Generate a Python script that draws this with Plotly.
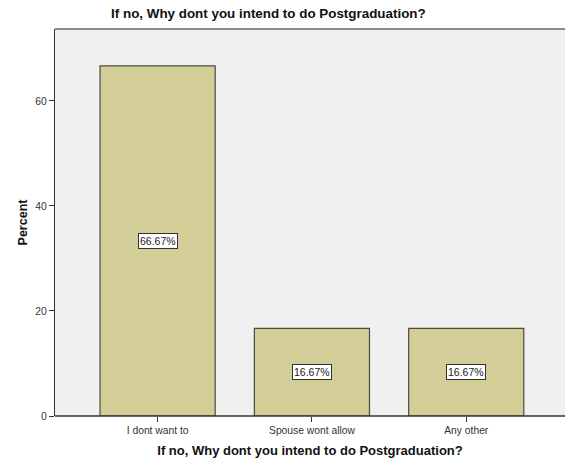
import plotly.graph_objects as go

categories = ["I dont want to", "Spouse wont allow", "Any other"]
percent = [66.67, 16.67, 16.67]
label_text = ["66.67%", "16.67%", "16.67%"]
y_ticks = [0, 20, 40, 60]

fig = go.Figure()
fig.add_trace(go.Bar(
    x=list(range(len(categories))), y=percent,
    width=0.746,
    marker=dict(color="#D3CE97", line=dict(color="#4a4a40", width=1.2)),
    hoverinfo="skip",
))

for i, (v, t) in enumerate(zip(percent, label_text)):
    fig.add_annotation(
        x=i, y=v / 2, text=t, showarrow=False,
        font=dict(family="Arial, Liberation Sans", size=10.5, color="#222"),
        bgcolor="white", bordercolor="#333", borderwidth=1, borderpad=1,
    )

fig.update_layout(
    width=565, height=461,
    margin=dict(l=55, r=0, t=29, b=45),
    paper_bgcolor="white", plot_bgcolor="#F0F0F0",
    showlegend=False,
    font=dict(family="Arial, Liberation Sans", color="#333"),
    title=dict(text="<b>If no, Why dont you intend to do Postgraduation?</b>",
               x=0.475, xanchor="center", y=0.972, yanchor="middle",
               font=dict(size=13.4, color="#111")),
    xaxis=dict(
        range=[-0.665, 2.64],
        tickmode="array", tickvals=list(range(len(categories))), ticktext=categories,
        ticks="outside", ticklen=5, tickcolor="#333", tickwidth=1,
        tickfont=dict(size=10.3, color="#333"),
        showgrid=False, zeroline=False, showline=False,
        title=dict(text="<b>If no, Why dont you intend to do Postgraduation?</b>",
                   font=dict(size=13, color="#111"), standoff=10),
    ),
    yaxis=dict(
        range=[0, 73.7],
        tickmode="array", tickvals=y_ticks,
        ticks="outside", ticklen=5, tickcolor="#333", tickwidth=1,
        tickfont=dict(size=10.3, color="#333"),
        showgrid=False, zeroline=False,
        showline=True, linecolor="#333", linewidth=1.3,
        title=dict(text="<b>Percent</b>", font=dict(size=12.5, color="#111"), standoff=4),
    ),
)

# bottom baseline and top border
fig.add_shape(type="line", xref="paper", yref="paper", x0=0, x1=1, y0=0, y1=0,
              line=dict(color="#333", width=1.3))
fig.add_shape(type="line", xref="paper", yref="paper", x0=0, x1=1, y0=1, y1=1,
              line=dict(color="#8a8a8a", width=2))

fig.write_html("out.html")
